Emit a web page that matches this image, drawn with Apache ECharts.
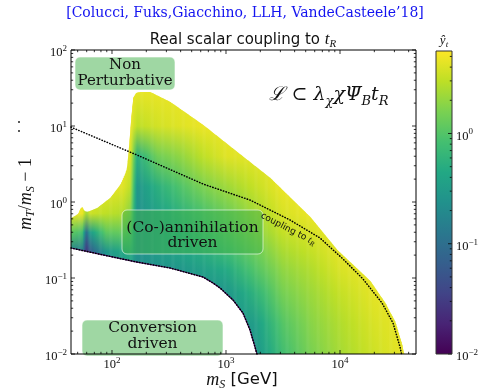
<!DOCTYPE html>
<html><head><meta charset="utf-8">
<script src="https://cdn.jsdelivr.net/npm/echarts@6/dist/echarts.min.js"></script>
<style>html,body{margin:0;padding:0;background:#fff}#c{width:482px;height:389px}</style>
</head><body><div id="c"></div><script>
// ---------------- data ----------------
const xTicks = [100, 1000, 10000];
const yTicks = [0.01, 0.1, 1, 10, 100];
const cbTicks = [0.01, 0.1, 1];
const xMin = 43.7, xMax = 46400, yMin = 0.01, yMax = 100;
const cbMin = 0.01, cbMax = 5.6;

// upper edge of the allowed region (m_S in GeV, m_T/m_S - 1)
const upperM = [43.7, 50.3, 52.4, 54.6, 56.8, 60.4, 73.9, 96.0, 117.6, 130, 135.3, 141, 146.8, 152.8, 162.4, 176, 215.4, 322.8, 628.4, 1249, 2432, 5456, 9412, 18323, 24820, 30370, 34990, 36430];
const upperR = [0.616, 0.695, 0.809, 0.859, 0.761, 0.738, 0.834, 1.129, 1.674, 2.33, 2.80, 5.62, 12.7, 23.4, 27.2, 28.0, 28.0, 20.7, 10.3, 4.55, 2.07, 0.635, 0.234, 0.0914, 0.0469, 0.0264, 0.0131, 0.0094];
// lower edge (conversion-driven limit)
const lowerM = [43.7, 83.4, 165.7, 322.8, 628.4, 769, 885, 1151, 1409, 1624, 1796, 1910];
const lowerR = [0.248, 0.201, 0.162, 0.1355, 0.103, 0.0859, 0.0741, 0.0514, 0.0346, 0.0207, 0.01236, 0.0089];
// "coupling to t_R" dotted curve
const couplingM = [43.7, 165.7, 628.4, 1624, 3640, 6676, 10620, 15915, 23360, 29170, 33600, 34990];
const couplingR = [9.66, 4.15, 1.725, 1.062, 0.580, 0.336, 0.178, 0.097, 0.0469, 0.0256, 0.01236, 0.0094];

// sampled coupling y_t : columns at gridM, rows at gridR (bottom -> top)
const gridM = [43.7, 55.0, 59.6, 64.6, 89.1, 125.9, 144.5, 166.0, 251.2, 398.1, 631.0, 1000, 1778, 3162, 5623, 10000, 19953, 39811];
const gridR = [0.00794, 0.0251, 0.0631, 0.126, 0.224, 0.398, 0.708, 1.585, 3.98, 10, 31.6];
const gridYt = [
  [0.17,0.17,0.17,0.17,0.17,1.16,4.7,4.7,4.7,4.7,4.7],
  [0.144,0.144,0.144,0.144,0.144,0.85,4.7,4.7,4.7,4.7,4.7],
  [0.026,0.026,0.026,0.026,0.026,0.092,2.2,4.7,4.7,4.7,4.7],
  [0.067,0.067,0.067,0.067,0.067,0.33,3.42,4.7,4.7,4.7,4.7],
  [0.27,0.27,0.27,0.27,0.27,1.16,3.0,4.7,4.7,4.7,4.7],
  [0.24,0.24,0.24,0.24,0.45,1.24,2.65,4.14,4.7,4.7,4.7],
  [0.33,0.33,0.33,0.33,0.51,0.96,1.82,3.0,4.14,4.7,4.7],
  [0.21,0.21,0.21,0.21,0.24,0.24,0.24,0.27,0.51,3.0,4.7],
  [0.24,0.24,0.24,0.24,0.33,0.33,0.37,0.54,1.41,3.65,4.7],
  [0.27,0.27,0.27,0.27,0.40,0.45,0.58,0.96,1.94,4.14,4.7],
  [0.24,0.24,0.24,0.35,0.51,0.70,0.90,1.6,3.0,4.7,4.7],
  [0.24,0.24,0.27,0.45,0.75,1.03,1.32,2.2,4.14,4.7,4.7],
  [0.24,0.33,0.58,0.96,1.32,1.82,2.34,3.21,4.41,4.7,4.7],
  [0.75,1.03,1.5,1.94,2.49,3.21,3.89,4.7,4.7,4.7,4.7],
  [1.5,1.82,2.2,2.65,3.21,3.89,4.7,4.7,4.7,4.7,4.7],
  [2.34,2.65,3.21,3.89,4.41,4.7,4.7,4.7,4.7,4.7,4.7],
  [3.42,3.89,4.41,4.7,4.7,4.7,4.7,4.7,4.7,4.7,4.7],
  [4.7,4.7,4.7,4.7,4.7,4.7,4.7,4.7,4.7,4.7,4.7]
];

// ---------------- helpers ----------------
const VIRIDIS = ['#440154','#482475','#414487','#355f8d','#2a788e','#21918c','#22a884','#44bf70','#7ad151','#bddf26','#fde725'];
const VIR_RGB = VIRIDIS.map(h => [parseInt(h.slice(1,3),16), parseInt(h.slice(3,5),16), parseInt(h.slice(5,7),16)]);
function viridis(t){
  t = Math.max(0, Math.min(1, t));
  const p = t*(VIR_RGB.length-1);
  const i = Math.min(VIR_RGB.length-2, Math.floor(p));
  const f = p - i, a = VIR_RGB[i], b = VIR_RGB[i+1];
  return 'rgb(' + Math.round(a[0]+(b[0]-a[0])*f) + ',' + Math.round(a[1]+(b[1]-a[1])*f) + ',' + Math.round(a[2]+(b[2]-a[2])*f) + ')';
}
const LCMIN = Math.log10(cbMin), LCMAX = Math.log10(cbMax);
function colorOfLog(lv){ return viridis((lv - LCMIN)/(LCMAX - LCMIN)); }
const gridLM = gridM.map(Math.log10);
const gridLogV = gridYt.map(c => c.map(Math.log10));
function columnLogV(lm){
  if (lm <= gridLM[0]) return gridLogV[0];
  if (lm >= gridLM[gridLM.length-1]) return gridLogV[gridLM.length-1];
  let i = 0;
  while (lm > gridLM[i+1]) i++;
  const f = (lm - gridLM[i])/(gridLM[i+1]-gridLM[i]);
  return gridLogV[i].map((v,k) => v*(1-f) + gridLogV[i+1][k]*f);
}
function boundAt(ms, rs, m){
  const lm = Math.log10(m);
  const a0 = Math.log10(ms[0]), a1 = Math.log10(ms[ms.length-1]);
  if (lm < a0 - 1e-9 || lm > a1 + 1e-9) return null;
  for (let i = 0; i < ms.length-1; i++){
    const a = Math.log10(ms[i]), b = Math.log10(ms[i+1]);
    if (lm <= b + 1e-12){
      const f = Math.max(0, Math.min(1, (lm-a)/(b-a)));
      return Math.pow(10, Math.log10(rs[i])*(1-f) + Math.log10(rs[i+1])*f);
    }
  }
  return null;
}
function powLabel(v){
  const e = Math.log10(v), r = Math.round(e);
  if (Math.abs(e - r) > 1e-6) return '';
  return '{b|10}{s|' + (r < 0 ? '\u2212' + (-r) : r) + '}';
}
const RICH = {
  b: {fontFamily:'Liberation Serif', fontSize:12.5, lineHeight:18, color:'#111'},
  s: {fontFamily:'Liberation Serif', fontSize:9, lineHeight:9, verticalAlign:'top', color:'#111'}
};

// ---------------- renderers ----------------
function renderField(params, api){
  const children = [];
  const l0 = Math.log10(upperM[0]), l1 = Math.log10(upperM[upperM.length-1]);
  const step = 0.008;
  const gTop = api.coord([1000, gridR[gridR.length-1]])[1];
  const gBot = api.coord([1000, gridR[0]])[1];
  const lrTop = Math.log10(gridR[gridR.length-1]), lrBot = Math.log10(gridR[0]);
  const cl = r => Math.min(yMax, Math.max(yMin, r));
  for (let l = l0; l < l1 - 1e-9; l += step){
    const la = l, lb = Math.min(l + step, l1);
    const ma = Math.pow(10, la), mb = Math.pow(10, lb);
    const ua = boundAt(upperM, upperR, ma), ub = boundAt(upperM, upperR, mb);
    if (ua == null || ub == null) continue;
    let da = boundAt(lowerM, lowerR, ma), db = boundAt(lowerM, lowerR, mb);
    if (da == null) da = yMin; if (db == null) db = yMin;
    const pa1 = api.coord([ma, cl(da)]), pb1 = api.coord([mb, cl(db)]);
    const pb2 = api.coord([mb, cl(ub)]), pa2 = api.coord([ma, cl(ua)]);
    if (pa2[1] >= pa1[1] - 0.01 && pb2[1] >= pb1[1] - 0.01) continue;
    const ext = 0.6;
    const pts = [[pa1[0], pa1[1]], [pb1[0]+ext, pb1[1]], [pb2[0]+ext, pb2[1]], [pa2[0], pa2[1]]];
    const logs = columnLogV((la + lb)/2);
    const stops = [];
    for (let k = gridR.length-1; k >= 0; k--){
      stops.push({offset: (lrTop - Math.log10(gridR[k]))/(lrTop - lrBot), color: colorOfLog(logs[k])});
    }
    children.push({type:'polygon', shape:{points:pts}, style:{fill:{type:'linear', x:0, y:gTop, x2:0, y2:gBot, global:true, colorStops:stops}}});
  }
  return {type:'group', children};
}
function renderMainTicks(params, api){
  const ch = [];
  const bl = api.coord([xMin, yMin]), tr = api.coord([xMax, yMax]);
  const L = bl[0], B = bl[1], R = tr[0], T = tr[1];
  const seg = (x1,y1,x2,y2) => ch.push({type:'line', shape:{x1,y1,x2,y2}, style:{stroke:'#000', lineWidth:0.8}});
  const xDec = [xTicks[0]/10].concat(xTicks);
  xDec.forEach(d => { for (let k = 1; k <= 9; k++){ const v = k*d; if (v < xMin || v > xMax) continue;
    const x = api.coord([v, 1])[0]; const len = k === 1 ? 4 : 2.2; seg(x,B,x,B-len); seg(x,T,x,T+len); } });
  yTicks.forEach(d => { for (let k = 1; k <= 9; k++){ const v = k*d; if (v < yMin || v > yMax*1.0001) continue;
    const y = api.coord([1000, v])[1]; const len = k === 1 ? 4 : 2.2; seg(L,y,L+len,y); seg(R,y,R-len,y); } });
  ch.push({type:'rect', shape:{x:L, y:T, width:R-L, height:B-T}, style:{fill:'rgba(0,0,0,0)', stroke:'#000', lineWidth:1}});
  return {type:'group', children:ch};
}
function renderColorbar(params, api){
  const ch = [];
  const bl = api.coord([0, cbMin]), tr = api.coord([1, cbMax]);
  const L = bl[0], B = bl[1], R = tr[0], T = tr[1];
  ch.push({type:'rect', shape:{x:L, y:T, width:R-L, height:B-T}, style:{fill:{type:'linear', x:0, y:1, x2:0, y2:0,
    colorStops: VIRIDIS.map((c,i) => ({offset:i/(VIRIDIS.length-1), color:c}))}}});
  cbTicks.forEach(d => { for (let k = 1; k <= 9; k++){ const v = k*d; if (v < cbMin || v > cbMax) continue;
    const y = api.coord([0, v])[1]; const len = k === 1 ? 4 : 2.2;
    ch.push({type:'line', shape:{x1:R, y1:y, x2:R-len, y2:y}, style:{stroke:'#000', lineWidth:0.8}}); } });
  ch.push({type:'rect', shape:{x:L, y:T, width:R-L, height:B-T}, style:{fill:'rgba(0,0,0,0)', stroke:'#333', lineWidth:1}});
  return {type:'group', children:ch};
}

const pairs = (ms, rs) => ms.map((m,i) => [m, rs[i]]);
const boxFill = 'rgba(64,175,72,0.5)';
const serif = '"DejaVu Serif"';

const option = {
  animation: false,
  backgroundColor: '#fff',
  grid: [
    {left:71, top:50, width:345, height:304, show:false},
    {left:436, top:51, width:16, height:303, show:false}
  ],
  xAxis: [
    {type:'log', logBase:10, gridIndex:0, min:xMin, max:xMax, axisLine:{show:false}, axisTick:{show:false},
     splitLine:{show:false}, minorTick:{show:false}, axisLabel:{formatter:powLabel, margin:2, rich:RICH}},
    {type:'value', gridIndex:1, min:0, max:1, show:false}
  ],
  yAxis: [
    {type:'log', logBase:10, gridIndex:0, min:yMin, max:yMax, axisLine:{show:false}, axisTick:{show:false},
     splitLine:{show:false}, minorTick:{show:false}, axisLabel:{formatter:powLabel, margin:4, rich:RICH, padding:[6,0,0,0]}},
    {type:'log', logBase:10, gridIndex:1, min:cbMin, max:cbMax, position:'right', axisLine:{show:false}, axisTick:{show:false},
     splitLine:{show:false}, minorTick:{show:false}, axisLabel:{formatter:powLabel, margin:4, rich:RICH, padding:[6,0,0,0]}}
  ],
  series: [
    {type:'custom', name:'field', xAxisIndex:0, yAxisIndex:0, data:[[1000,1]], renderItem:renderField, silent:true, clip:true, z:2},
    {type:'line', name:'edge', xAxisIndex:0, yAxisIndex:0, data:pairs(lowerM, lowerR), showSymbol:false, clip:true, silent:true,
     lineStyle:{color:'#4a0c6b', width:1.2}, z:3},
    {type:'line', name:'lower dotted', xAxisIndex:0, yAxisIndex:0, data:pairs(lowerM, lowerR), showSymbol:false, clip:true, silent:true,
     lineStyle:{color:'#000', width:1.5, type:[0.4,2.4], cap:'round'}, z:4},
    {type:'line', name:'coupling', xAxisIndex:0, yAxisIndex:0, data:pairs(couplingM, couplingR), showSymbol:false, clip:true, silent:true,
     lineStyle:{color:'#000', width:1.5, type:[0.4,2.4], cap:'round'}, z:4},
    {type:'custom', name:'ticks', xAxisIndex:0, yAxisIndex:0, data:[[1000,1]], renderItem:renderMainTicks, silent:true, clip:false, z:20},
    {type:'custom', name:'colorbar', xAxisIndex:1, yAxisIndex:1, data:[[0.5,1]], renderItem:renderColorbar, silent:true, clip:false, z:20}
  ],
  graphic: [
    {type:'text', x:245, y:13, z:30, style:{text:'[Colucci, Fuks,Giacchino, LLH, VandeCasteele\u201918]', fill:'#1414f0',
      font:'14px ' + serif, align:'center', verticalAlign:'middle'}},
    {type:'text', x:243, y:40, z:30, style:{text:'{n|Real scalar coupling to }{i|t}{sub|R}', align:'center', verticalAlign:'middle',
      rich:{n:{fontFamily:'"DejaVu Sans"', fontSize:15, lineHeight:20, fill:'#111'},
            i:{fontFamily:'"Liberation Serif"', fontStyle:'italic', fontSize:17, lineHeight:20, fill:'#111'},
            sub:{fontFamily:'"Liberation Serif"', fontStyle:'italic', fontSize:11, lineHeight:11, verticalAlign:'bottom', fill:'#111'}}}},
    {type:'text', x:444, y:41, z:30, style:{text:'{i|\u0177}{sub|t}', align:'center', verticalAlign:'middle',
      rich:{i:{fontFamily:'"Liberation Serif"', fontStyle:'italic', fontSize:13, lineHeight:16, fill:'#111'},
            sub:{fontFamily:'"Liberation Serif"', fontStyle:'italic', fontSize:9, lineHeight:9, verticalAlign:'bottom', fill:'#111'}}}},
    {type:'text', x:242, y:380, z:30, style:{text:'{i|m}{sub|S}{n| [GeV]}', align:'center', verticalAlign:'middle',
      rich:{i:{fontFamily:'"Liberation Serif"', fontStyle:'italic', fontSize:18, lineHeight:22, fill:'#111'},
            sub:{fontFamily:'"Liberation Serif"', fontStyle:'italic', fontSize:12, lineHeight:12, verticalAlign:'bottom', fill:'#111'},
            n:{fontFamily:'"DejaVu Sans"', fontSize:16.5, lineHeight:22, fill:'#111'}}}},
    {type:'text', x:26, y:194, rotation:Math.PI/2, z:30, style:{text:'{i|m}{sub|T}{n|/}{i|m}{sub|S}{n| \u2212 1}', align:'center', verticalAlign:'middle',
      rich:{i:{fontFamily:'"Liberation Serif"', fontStyle:'italic', fontSize:18, lineHeight:22, fill:'#111'},
            sub:{fontFamily:'"Liberation Serif"', fontStyle:'italic', fontSize:12, lineHeight:12, verticalAlign:'bottom', fill:'#111'},
            n:{fontFamily:'"Liberation Serif"', fontSize:18, lineHeight:22, fill:'#111'}}}},
    {type:'circle', x:19, y:122, z:30, shape:{r:1}, style:{fill:'#222'}},
    {type:'circle', x:19, y:131, z:30, shape:{r:1}, style:{fill:'#222'}},
    // annotation boxes
    {type:'rect', x:75, y:57, z:10, shape:{width:100, height:33, r:5}, style:{fill:boxFill, stroke:'rgba(255,255,255,0.6)', lineWidth:1}},
    {type:'text', x:125, y:73, z:11, style:{text:'Non\nPerturbative', font:'15px ' + serif, lineHeight:16, fill:'#111', align:'center', verticalAlign:'middle'}},
    {type:'rect', x:122, y:210, z:10, shape:{width:141, height:44, r:5}, style:{fill:boxFill, stroke:'rgba(255,255,255,0.6)', lineWidth:1}},
    {type:'text', x:192.5, y:235.5, z:11, style:{text:'(Co-)annihilation\ndriven', font:'15.5px ' + serif, lineHeight:15.5, fill:'#111', align:'center', verticalAlign:'middle'}},
    {type:'rect', x:82, y:320, z:10, shape:{width:141, height:36, r:5}, style:{fill:boxFill, stroke:'rgba(255,255,255,0.6)', lineWidth:1}},
    {type:'text', x:152.5, y:336, z:11, style:{text:'Conversion\ndriven', font:'15.5px ' + serif, lineHeight:16.5, fill:'#111', align:'center', verticalAlign:'middle'}},
    // Lagrangian
    {type:'text', x:329, y:95, z:11, style:{text:'{i|\u2112 \u2282 \u03bb}{sub|\u03c7}{i|\u03c7\u03a8\u0304}{sub|B}{i|t}{sub|R}', align:'center', verticalAlign:'middle',
      rich:{i:{fontFamily:serif, fontStyle:'italic', fontSize:19, lineHeight:26, fill:'#111'},
            sub:{fontFamily:serif, fontStyle:'italic', fontSize:13, lineHeight:14, verticalAlign:'bottom', fill:'#111'}}}},
    // curve label
    {type:'text', x:288, y:229, rotation:-0.475, z:11, style:{text:'{n|coupling to }{i|t}{sub|R}', align:'center', verticalAlign:'middle',
      rich:{n:{fontFamily:'"DejaVu Sans"', fontSize:9, lineHeight:12, fill:'#111'},
            i:{fontFamily:'"Liberation Serif"', fontStyle:'italic', fontSize:10, lineHeight:12, fill:'#111'},
            sub:{fontFamily:'"Liberation Serif"', fontStyle:'italic', fontSize:7, lineHeight:7, verticalAlign:'bottom', fill:'#111'}}}}
  ]
};
const chart = echarts.init(document.getElementById('c'), null, {renderer:'canvas'});
chart.setOption(option);
</script></body></html>
